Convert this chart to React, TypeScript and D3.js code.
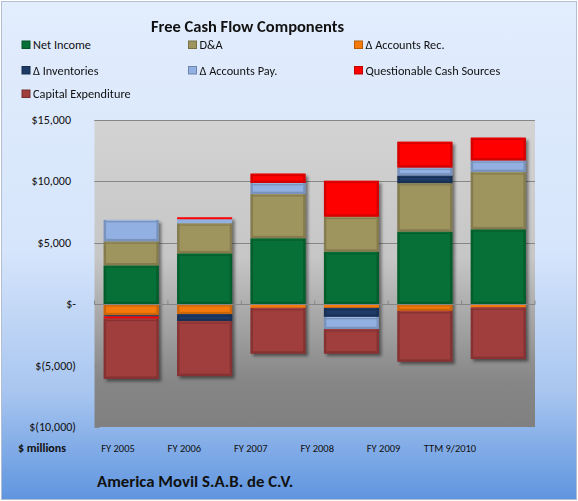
import { useEffect, useRef } from "react";
import * as d3 from "d3";

const categories = ["FY 2005", "FY 2006", "FY 2007", "FY 2008", "FY 2009", "TTM 9/2010"];
const seriesNames = [
  "Net Income",
  "D&A",
  "Δ Accounts Rec.",
  "Δ Inventories",
  "Δ Accounts Pay.",
  "Questionable Cash Sources",
  "Capital Expenditure",
];
const seriesColors = ["#067036", "#9e945e", "#f57a0c", "#1e3a66", "#92b0e2", "#ff0000", "#a03d3d"];

// $ millions
const netIncome = [3160, 4140, 5370, 4270, 5910, 6100];
const depAmort = [1960, 2450, 3600, 2860, 3950, 4660];
const accountsRec = [-900, -820, -300, -300, -545, -270];
const inventories = [-100, -570, 0, -735, 620, 0];
const accountsPay = [1740, 330, 900, -1000, 650, 950];
const questionable = [-180, 160, 760, 2920, 2100, 1850];
const capex = [-4900, -4470, -3730, -1990, -4140, -4200];

const yTicks = [15000, 10000, 5000, 0, -5000, -10000];
const yTickLabels = ["$15,000", "$10,000", "$5,000", "$-", "$(5,000)", "$(10,000)"];

const FONT = "Calibri, Carlito, Lato, sans-serif";

const App = () => {
  const ref: any = useRef<SVGSVGElement>(null);

  useEffect(() => {
    document.body.style.margin = "0";
    const W = 578;
    const H = 501;
    const plot = { left: 94.5, right: 535, top: 120, bottom: 427 };

    const svg = d3.select(ref.current);
    svg.selectAll("*").remove();

    const defs = svg.append("defs");
    const bg = defs.append("linearGradient").attr("id", "bg").attr("x1", 0).attr("y1", 0).attr("x2", 0).attr("y2", 1);
    [
      [0, "#e2edfd"],
      [0.5, "#d6e5fb"],
      [0.78, "#a9c6f0"],
      [1, "#5f95df"],
    ].forEach(([o, c]) => bg.append("stop").attr("offset", o as number).attr("stop-color", c as string));
    const pg = defs.append("linearGradient").attr("id", "pg").attr("x1", 0).attr("y1", 0).attr("x2", 0).attr("y2", 1);
    [
      [0, "#d3d3d3"],
      [0.45, "#c6c6c6"],
      [0.85, "#868686"],
      [1, "#808080"],
    ].forEach(([o, c]) => pg.append("stop").attr("offset", o as number).attr("stop-color", c as string));
    defs.append("filter").attr("id", "blur").attr("x", "-20%").attr("y", "-20%").attr("width", "140%").attr("height", "140%")
      .append("feGaussianBlur").attr("stdDeviation", 1.6);

    svg.append("rect").attr("width", W).attr("height", H).attr("fill", "#fff");
    svg.append("rect").attr("x", 1.5).attr("y", 1.5).attr("width", W - 3).attr("height", H - 3)
      .attr("fill", "url(#bg)").attr("stroke", "#b4c0d2");

    const x = d3.scaleBand().domain(categories).range([plot.left, plot.right]).paddingInner(0.25).paddingOuter(0.125);
    const y = d3.scaleLinear().domain([-10000, 15000]).range([plot.bottom, plot.top]);

    svg.append("rect").attr("x", plot.left).attr("y", plot.top)
      .attr("width", plot.right - plot.left).attr("height", plot.bottom - plot.top).attr("fill", "url(#pg)");

    // gridlines
    svg.append("g").selectAll("line").data(yTicks.filter((d) => d > 0)).join("line")
      .attr("x1", plot.left).attr("x2", plot.right)
      .attr("y1", (d) => Math.round(y(d)) + 0.5).attr("y2", (d) => Math.round(y(d)) + 0.5)
      .attr("stroke", "#868686").attr("stroke-width", 1);
    // left ticks
    svg.append("g").selectAll("line").data(yTicks).join("line")
      .attr("x1", plot.left).attr("x2", plot.left + 5)
      .attr("y1", (d) => Math.round(y(d)) + 0.5).attr("y2", (d) => Math.round(y(d)) + 0.5)
      .attr("stroke", "#868686");

    // y labels
    svg.append("g").selectAll("text").data(yTicks).join("text")
      .attr("x", (_d, i) => (/[)\-]$/.test(yTickLabels[i]) ? 76 : 71))
      .attr("y", (d) => y(d) + 4)
      .attr("text-anchor", "end")
      .attr("font-family", FONT).attr("font-size", 12).attr("fill", "#111")
      .text((_d, i) => yTickLabels[i]);

    const rows = categories.map((c, i) => ({
      category: c,
      [seriesNames[0]]: netIncome[i],
      [seriesNames[1]]: depAmort[i],
      [seriesNames[2]]: accountsRec[i],
      [seriesNames[3]]: inventories[i],
      [seriesNames[4]]: accountsPay[i],
      [seriesNames[5]]: questionable[i],
      [seriesNames[6]]: capex[i],
    }));
    const stacked = d3.stack<any>().keys(seriesNames).offset(d3.stackOffsetDiverging)(rows);

    // shadows per bar
    const extents = categories.map((c, i) => {
      const vals = stacked.flatMap((s) => [s[i][0], s[i][1]]);
      return { category: c, lo: d3.min(vals) as number, hi: d3.max(vals) as number };
    });
    svg.append("g").attr("filter", "url(#blur)").selectAll("rect").data(extents).join("rect")
      .attr("x", (d) => (x(d.category) as number) + 2.5)
      .attr("y", (d) => y(d.hi) + 2.5)
      .attr("width", x.bandwidth())
      .attr("height", (d) => y(d.lo) - y(d.hi))
      .attr("fill", "#000").attr("opacity", 0.45);

    const bw = x.bandwidth();
    stacked.forEach((s, si) => {
      const color = seriesColors[si];
      const dark = d3.color(color)!.darker(0.9).formatHex();
      const light = d3.color(color)!.brighter(0.5).formatHex();
      const segs = s
        .map((d) => ({ category: d.data.category, y0: Math.min(y(d[0]), y(d[1])), y1: Math.max(y(d[0]), y(d[1])) }))
        .filter((d) => d.y1 - d.y0 > 0.2);
      const g = svg.append("g").selectAll("g").data(segs).join("g");
      g.append("rect")
        .attr("x", (d) => x(d.category) as number).attr("y", (d) => d.y0)
        .attr("width", bw).attr("height", (d) => d.y1 - d.y0)
        .attr("fill", color);
      g.filter((d) => d.y1 - d.y0 > 5).append("rect")
        .attr("x", (d) => (x(d.category) as number) + 1.2).attr("y", (d) => d.y0 + 1.2)
        .attr("width", bw - 2.4).attr("height", (d) => d.y1 - d.y0 - 2.4)
        .attr("fill", "none").attr("stroke", dark).attr("stroke-width", 2.4).attr("opacity", 0.6);
      g.filter((d) => d.y1 - d.y0 > 5).append("line")
        .attr("x1", (d) => (x(d.category) as number) + 2.5).attr("x2", (d) => (x(d.category) as number) + bw - 2.5)
        .attr("y1", (d) => d.y0 + 0.6).attr("y2", (d) => d.y0 + 0.6)
        .attr("stroke", light).attr("stroke-width", 1).attr("opacity", 0.6);
    });

    // zero axis + category ticks
    const y0 = Math.round(y(0)) + 0.5;
    svg.append("line").attr("x1", plot.left).attr("x2", plot.right).attr("y1", y0).attr("y2", y0)
      .attr("stroke", "#868686");
    const step = x.step();
    svg.append("g").selectAll("line").data(d3.range(categories.length + 1)).join("line")
      .attr("x1", (i) => plot.left + i * step).attr("x2", (i) => plot.left + i * step)
      .attr("y1", y0 - 4).attr("y2", y0).attr("stroke", "#868686");

    // title
    svg.append("text").attr("x", 247.5).attr("y", 32).attr("text-anchor", "middle")
      .attr("font-family", FONT).attr("font-size", 16.5).attr("font-weight", "bold").attr("fill", "#111")
      .text("Free Cash Flow Components");

    // legend
    const legCols = [22, 188.5, 354.5];
    const legRows = [41, 66.5, 90];
    const leg = svg.append("g").selectAll("g").data(seriesNames).join("g")
      .attr("transform", (_d, i) => `translate(${legCols[i % 3]},${legRows[Math.floor(i / 3)]})`);
    leg.append("rect").attr("width", 8).attr("height", 7.5)
      .attr("fill", (_d, i) => seriesColors[i])
      .attr("stroke", (_d, i) => d3.color(seriesColors[i])!.darker(0.8).formatHex()).attr("stroke-width", 1);
    leg.append("text").attr("x", 11).attr("y", 8)
      .attr("font-family", FONT).attr("font-size", 12.3).attr("fill", "#111")
      .text((d) => d);

    // category labels row
    const lx = d3.scalePoint().domain(categories).range([118, 450]);
    svg.append("g").selectAll("text").data(categories).join("text")
      .attr("x", (d) => lx(d) as number).attr("y", 452).attr("text-anchor", "middle")
      .attr("font-family", FONT).attr("font-size", 10.5).attr("fill", "#111")
      .text((d) => d);
    svg.append("text").attr("x", 18).attr("y", 452)
      .attr("font-family", FONT).attr("font-size", 12).attr("font-weight", "bold").attr("fill", "#111")
      .text("$ millions");

    svg.append("text").attr("x", 97).attr("y", 487)
      .attr("font-family", FONT).attr("font-size", 16.8).attr("font-weight", "bold").attr("fill", "#111")
      .text("America Movil S.A.B. de C.V.");
  }, []);

  return <svg ref={ref} width={578} height={501} style={{ display: "block" }} />;
};

export default App;
